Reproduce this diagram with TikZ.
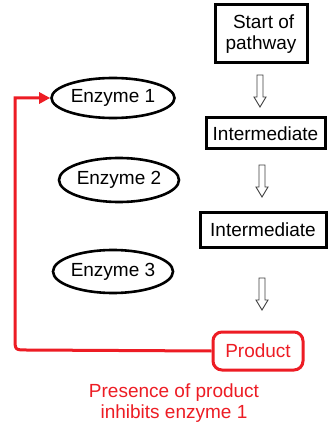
\documentclass[tikz,border=0pt]{standalone}
\usepackage{fontspec}
\setmainfont{Liberation Sans}
\usetikzlibrary{arrows.meta,shapes.geometric}
\definecolor{myred}{HTML}{ED1C24}
\tikzset{
  txt/.style={font=\fontsize{19}{21}\selectfont, inner sep=0pt},
  stepbox/.style={txt, draw=black, line width=3pt, minimum width=#1},
  enz/.style={txt, draw=black, line width=2.6pt, ellipse, minimum width=120pt, minimum height=41pt},
  redline/.style={draw=myred, line width=3pt},
  hollowarrow/.pic={\draw[line width=0.9pt, draw=black!75, fill=white]
     (-3,-16) -- (3,-16) -- (3,6) -- (6,6) -- (0,16) -- (-6,6) -- (-3,6) -- cycle;}
}
\begin{document}
\begin{tikzpicture}[x=1pt,y=-1pt]
\useasboundingbox[fill=white] (0,0) rectangle (334,430);
\node[stepbox=92pt, minimum height=58pt, align=center] (start) at (261,34) {\ Start of\\pathway};
\node[stepbox=119pt, minimum height=31pt] (int1) at (265.5,133.5) {Intermediate};
\node[stepbox=126pt, minimum height=35pt] (int2) at (263,229.5) {Intermediate};
\node[txt, redline, text=myred, rounded corners=9pt, minimum width=90pt, minimum height=38pt] (prod) at (258,351) {Product};
\node[enz, minimum width=123pt, minimum height=40pt] (e1) at (113,98) {Enzyme 1};
\node[enz, minimum height=44pt] (e2) at (119,180) {Enzyme 2};
\node[enz, minimum height=43pt] (e3) at (113,271.5) {Enzyme 3};
\pic at (260,91) {hollowarrow};
\pic at (262,181) {hollowarrow};
\pic at (262,294) {hollowarrow};
\coordinate (c0) at (15,350);
\coordinate (c1) at (15,98);
\draw[redline, -{Triangle[length=11pt,width=11pt]}] (prod.west) -- ([xshift=12pt]c0) .. controls (c0) .. ([yshift=12pt]c0) -- (c1) -- (e1.west);
\node[txt, text=myred, align=center] (note) at (174,403) {Presence of product\\inhibits enzyme 1};
\end{tikzpicture}
\end{document}
